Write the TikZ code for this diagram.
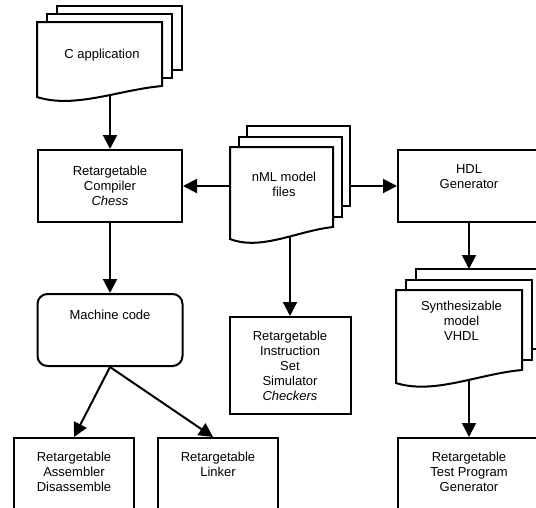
\documentclass[tikz,border=0pt]{standalone}
\usepackage{fontspec}
\setmainfont{Liberation Sans}
\usepackage{tikz}
\usetikzlibrary{positioning,arrows.meta,calc}

\tikzset{
  box/.style={draw, rectangle, inner sep=0pt, align=center, font=\fontsize{13}{15}\selectfont},
  txt/.style={inner sep=0pt, align=center, font=\fontsize{13}{15}\selectfont},
  sheet/.style={-, draw, fill=white, line join=miter}
}

% stack of three sheets: name, left, top, right, right bottom, left bottom, offset x, offset y
\newcommand{\docstack}[8]{%
  \foreach \k in {2,1}
    \draw[sheet] ($(#2,#3)+({\k*#7},{\k*(#8)})$) rectangle ($(#4,#5)+({\k*#7},{\k*(#8)})$);
  \coordinate (#1-t) at ($(#2,#3)+({2*#7},{2*(#8)})$);
  \coordinate (#1-r) at ($(#4,#3)+({2*#7},{2*(#8)})$);
  \coordinate (#1-l) at (#2,#3);
  \draw[sheet] (#2,#3) -- (#4,#3) -- (#4,#5)
    .. controls ({#2+0.65*(#4-#2)},{#5+4}) and ({#2+0.3*(#4-#2)},{#6+12}) .. (#2,#6)
    coordinate[pos=0.4] (#1-b) -- cycle;
}

\begin{document}
\begin{tikzpicture}[x=1pt, y=-1pt, ->, >={Triangle[length=14pt,width=14pt]}, line width=2pt]
  \useasboundingbox[-] (0,0) rectangle (536,507);
  \clip (0,0) rectangle (536,507);

  % Documents
  \docstack{capp}{37}{22}{162}{86}{97}{10}{-8}
  \node[txt, anchor=north] (capptxt) at (102,48) {C application};

  \docstack{nml}{230}{147}{333}{227}{239}{8.5}{-10.5}
  \node[txt, anchor=north] (nmltxt) at (284,171.5) {nML model\\files};

  \docstack{synth}{396}{290}{522}{370}{383}{10}{-10.5}
  \node[txt, anchor=north] (synthtxt) at (461.5,300.5) {Synthesizable\\model\\VHDL};

  % Tools
  \node[box, minimum width=144pt, minimum height=72pt] (comp) at (110,186)
    {Retargetable\\Compiler\\\textit{Chess}};
  \node[box, minimum width=142pt, minimum height=72pt] (hdl) at (469,186) {};
  \node[txt, below=15pt of hdl.north] (hdltxt) {HDL\\Generator};
  \node[box, minimum width=121pt, minimum height=97pt] (sim) at (290,365.5)
    {Retargetable\\Instruction\\Set\\Simulator\\\textit{Checkers}};
  \node[box, rounded corners=10pt, minimum width=145pt, minimum height=72pt] (mach) at (110,330) {};
  \node[txt, below=16.5pt of mach.north] (machtxt) {Machine code};

  \node[box, minimum width=120pt, minimum height=100pt, anchor=north] (asm) at (74,437) {};
  \node[txt, below=14.5pt of asm.north] (asmtxt) {Retargetable\\Assembler\\Disassemble};
  \node[box, minimum width=120pt, minimum height=100pt, anchor=north] (link) at (218,437) {};
  \node[txt, below=14.5pt of link.north] (linktxt) {Retargetable\\Linker};
  \node[box, minimum width=142pt, minimum height=100pt, anchor=north] (test) at (469,437) {};
  \node[txt, below=14.5pt of test.north] (testtxt) {Retargetable\\Test Program\\Generator};

  \path
    (comp.north |- capp-b) edge (comp.north)
    (comp.south)           edge (mach.north)
    (nml-l |- comp.east)   edge (comp.east)
    (nml-r |- hdl.west)    edge (hdl.west)
    (sim.north |- nml-b)   edge (sim.north)
    (hdl.south)            edge (hdl.south |- synth-t)
    (test.north |- synth-b) edge (test.north)
    (mach.south)           edge (asm.north)
    (mach.south)           edge ([xshift=-5pt]link.north);
\end{tikzpicture}
\end{document}
